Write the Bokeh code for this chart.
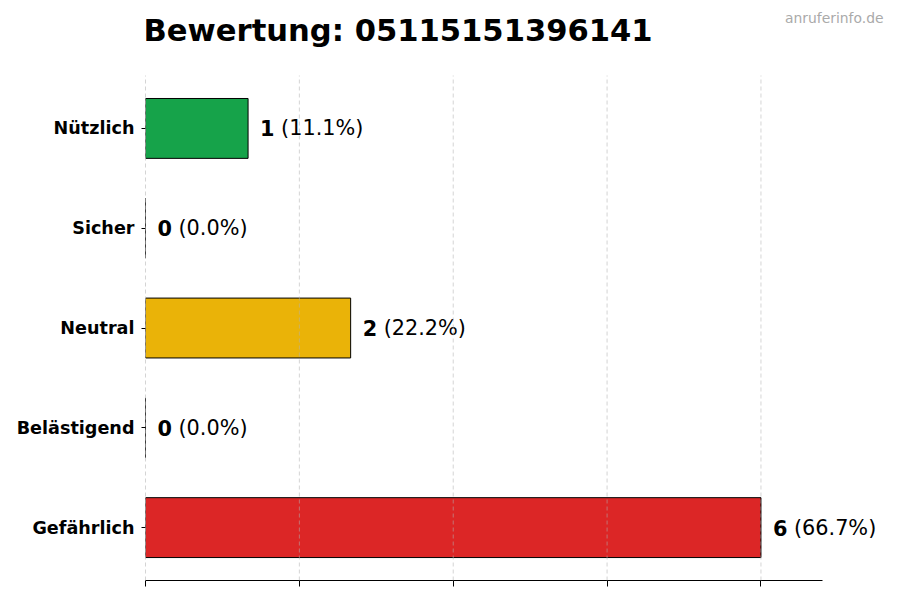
from bokeh.plotting import figure
from bokeh.models import ColumnDataSource, FixedTicker, Label, LabelSet
from bokeh.embed import file_html
from bokeh.resources import INLINE
from bokeh.core.properties import value

phone_number = "05115151396141"
categories = ["Nützlich", "Sicher", "Neutral", "Belästigend", "Gefährlich"]
counts = [1, 0, 2, 0, 6]
bar_colors = ["#16a34a", "#0ea5e9", "#eab308", "#f97316", "#dc2626"]
x_ticks = [0, 1.5, 3, 4.5, 6]

FONT = "DejaVu Sans"

total = sum(counts)
n = len(categories)
y_pos = [n - 1 - i for i in range(n)]  # first category on top
num_labels = [str(c) for c in counts]
pct_labels = ["(%.1f%%)" % (100.0 * c / total) for c in counts]

source = ColumnDataSource(data=dict(y=y_pos, count=counts, color=bar_colors,
                                    num=num_labels, pct=pct_labels))

# axis spans 0..max*1.1, the frame is wider so the value texts are not clipped
x_axis_end = max(counts) * 1.1
frame_w = 884 - 145
x_end = x_axis_end * frame_w / 677.0
y_lo, y_hi = -0.53, n - 1 + 0.53
y_top = y_hi + 75 / 99.75

p = figure(width=884, height=592, output_backend="svg", toolbar_location=None,
           x_range=(0, x_end), y_range=(y_lo, y_top),
           min_border_left=145, min_border_right=0, min_border_top=0, min_border_bottom=12)
p.outline_line_color = None

# bars
p.hbar(y="y", left=0, right="count", height=0.6, source=source,
       fill_color="color", line_color="black", line_width=1)

# dashed vertical grid
p.xgrid.visible = False
p.ygrid.visible = False
p.segment(x0=x_ticks, y0=[y_lo] * len(x_ticks), x1=x_ticks, y1=[y_hi] * len(x_ticks),
          line_color="#b0b0b0", line_alpha=0.55, line_dash="4 3", line_width=1,
          level="overlay")

# value labels: bold count, then normal percentage
p.add_layout(LabelSet(x="count", y="y", text="num", source=source, x_offset=12,
                      text_font=value(FONT), text_font_size="20.8px", text_font_style="bold",
                      text_baseline="middle", text_color="black"))
p.add_layout(LabelSet(x="count", y="y", text="pct", source=source, x_offset=33,
                      text_font=value(FONT), text_font_size="20.8px",
                      text_baseline="middle", text_color="black"))

# x axis: ticks only, no tick labels
p.xaxis.ticker = FixedTicker(ticks=x_ticks)
p.xaxis.bounds = (0, x_axis_end)
p.xaxis.major_label_overrides = {t: "" for t in x_ticks}
p.xaxis.major_label_text_font_size = "1px"
p.xaxis.major_label_standoff = 0
p.xaxis.major_tick_out = 6
p.xaxis.major_tick_in = 0
p.xaxis.minor_tick_line_color = None
p.xaxis.axis_line_color = "black"
p.xaxis.major_tick_line_color = "black"

# y axis: labels + small ticks, no spine
p.yaxis.ticker = FixedTicker(ticks=y_pos)
p.yaxis.major_label_overrides = {y: c for y, c in zip(y_pos, categories)}
p.yaxis.axis_line_color = None
p.yaxis.minor_tick_line_color = None
p.yaxis.major_tick_out = 4
p.yaxis.major_tick_in = 0
p.yaxis.major_tick_line_color = "black"
p.yaxis.major_label_standoff = 7
p.yaxis.major_label_text_font = FONT
p.yaxis.major_label_text_font_size = "17.6px"
p.yaxis.major_label_text_font_style = "bold"
p.yaxis.major_label_text_color = "black"

# title and watermark (screen units from the frame's bottom-left)
p.add_layout(Label(x=-2, y=550, x_units="screen", y_units="screen",
                   text="Bewertung: " + phone_number, text_font=FONT,
                   text_font_size="30.6px", text_font_style="bold",
                   text_baseline="alphabetic", text_color="black"))
p.add_layout(Label(x=738, y=563, x_units="screen", y_units="screen",
                   text="anruferinfo.de", text_font=FONT, text_font_size="13.9px",
                   text_align="right", text_baseline="alphabetic", text_color="#aaaaaa"))

open("out.html", "w").write(file_html(p, INLINE))
